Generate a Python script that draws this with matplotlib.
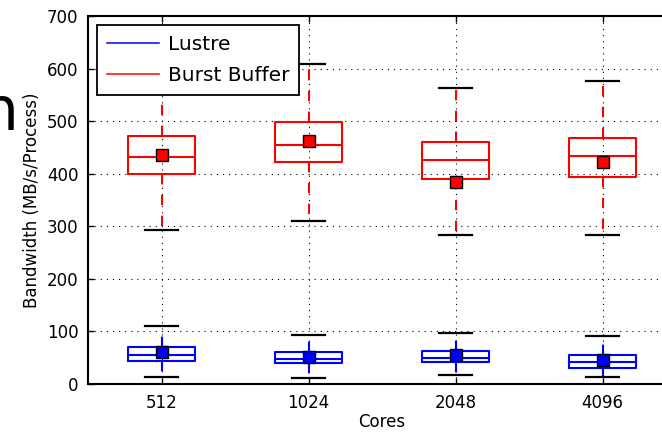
import matplotlib
matplotlib.use("Agg")
import matplotlib.pyplot as plt
from matplotlib.lines import Line2D

cores = ["512", "1024", "2048", "4096"]

# Lustre (MB/s/Process)
lus_lo = [13, 11, 17, 13]
lus_q1 = [44, 39, 41, 30]
lus_med = [54.5, 47.5, 49.5, 42.5]
lus_q3 = [71, 60, 63, 56]
lus_hi = [110, 92.5, 96.5, 92]
lus_mean = [60, 52, 54.5, 45.5]

# Burst Buffer (MB/s/Process)
bb_lo = [293, 311, 284, 283]
bb_q1 = [400, 422, 389, 394]
bb_med = [432, 455, 427, 434]
bb_q3 = [472, 499, 460, 467]
bb_hi = [590, 609, 563, 576]
bb_mean = [435.5, 462, 384, 423]

plt.rcParams["font.family"] = "DejaVu Sans"
plt.rcParams["font.size"] = 12

fig = plt.figure(figsize=(6.62, 4.33), dpi=100)
ax = fig.add_axes([88 / 662, 49 / 433, 588 / 662, 368 / 433])


def stats(lo, q1, med, q3, hi, mean):
    return [dict(whislo=a, q1=b, med=c, q3=d, whishi=e, mean=f, fliers=[])
            for a, b, c, d, e, f in zip(lo, q1, med, q3, hi, mean)]


pos = list(range(1, len(cores) + 1))
for st, col in [(stats(lus_lo, lus_q1, lus_med, lus_q3, lus_hi, lus_mean), "blue"),
                (stats(bb_lo, bb_q1, bb_med, bb_q3, bb_hi, bb_mean), "red")]:
    ax.bxp(st, positions=pos, widths=0.45, showmeans=True, showfliers=False,
           boxprops=dict(color=col, linewidth=1.5),
           medianprops=dict(color=col, linewidth=1.5),
           whiskerprops=dict(color=col, linewidth=1.5, linestyle=(0, (5, 5))),
           capprops=dict(color="black", linewidth=1.6),
           meanprops=dict(marker="s", markerfacecolor=col, markeredgecolor="black",
                          markersize=8, markeredgewidth=1))

ax.set_xlim(0.5, 4.5)
ax.set_ylim(0, 700)
ax.set_yticks(range(0, 701, 100))
ax.set_xticks(pos)
ax.set_xticklabels(cores)
ax.grid(True, color="black", linestyle=(0, (1, 4.5)), linewidth=0.8)
ax.tick_params(direction="in", length=4, width=1, top=True, right=True, pad=7)
for s in ax.spines.values():
    s.set_linewidth(1.5)

ax.set_xlabel("Cores", fontsize=12, labelpad=1)
ax.set_ylabel("Bandwidth (MB/s/Process)", fontsize=12)

handles = [Line2D([], [], color="blue", linewidth=1.1),
           Line2D([], [], color="red", linewidth=1.1)]
leg = ax.legend(handles, ["Lustre", "Burst Buffer"], loc="upper left",
                fontsize=14.5, fancybox=False, framealpha=1, edgecolor="black",
                handlelength=2.6, borderpad=0.5, borderaxespad=0.45,
                handletextpad=0.4, labelspacing=0.6)
leg.get_frame().set_linewidth(1.3)

# leftover piece of a large heading on the left edge
fig.text(18 / 662, 1 - 130 / 433, "n", ha="right", va="baseline", fontsize=43)

fig.savefig("out.png", dpi=100)
